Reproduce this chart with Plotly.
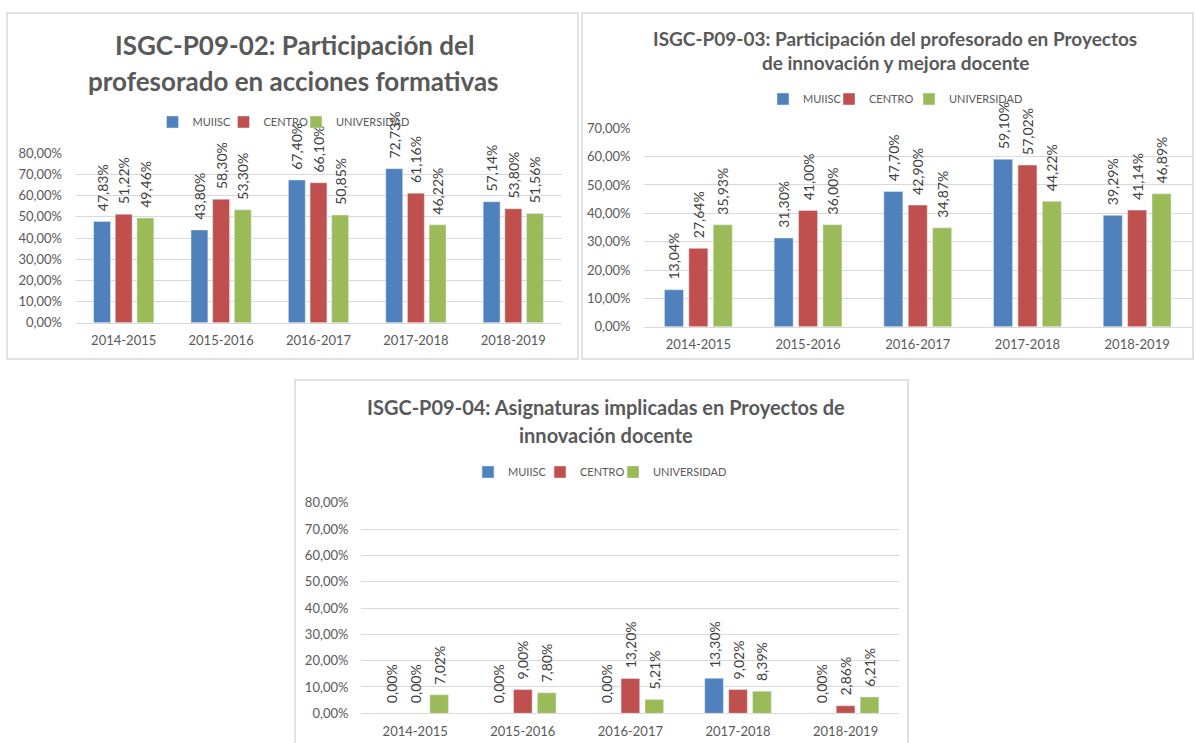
import plotly.graph_objects as go

W, H = 1196, 743

years = ["2014-2015", "2015-2016", "2016-2017", "2017-2018", "2018-2019"]
series_names = ["MUIISC", "CENTRO", "UNIVERSIDAD"]
colors = ["#4F81BD", "#C0504D", "#9BBB59"]

# ISGC-P09-02
p02_muiisc = [47.83, 43.80, 67.40, 72.73, 57.14]
p02_centro = [51.22, 58.30, 66.10, 61.16, 53.80]
p02_univ = [49.46, 53.30, 50.85, 46.22, 51.56]

# ISGC-P09-03
p03_muiisc = [13.04, 31.30, 47.70, 59.10, 39.29]
p03_centro = [27.64, 41.00, 42.90, 57.02, 41.14]
p03_univ = [35.93, 36.00, 34.87, 44.22, 46.89]

# ISGC-P09-04
p04_muiisc = [0.00, 0.00, 0.00, 13.30, 0.00]
p04_centro = [0.00, 9.00, 13.20, 9.02, 2.86]
p04_univ = [7.02, 7.80, 5.21, 8.39, 6.21]

title02 = ["ISGC-P09-02: Participación del", "profesorado en acciones formativas"]
title03 = ["ISGC-P09-03: Participación del profesorado en Proyectos",
           "de innovación y mejora docente"]
title04 = ["ISGC-P09-04: Asignaturas implicadas en Proyectos de",
           "innovación docente"]

FONT = "Lato"
GRAY = "#595959"
GRID = "#D9D9D9"


def px_x(x):
    return x / W


def px_y(y):
    return 1 - y / H


def fmt(v):
    return "\u00a0\u00a0" + f"{v:.2f}".replace(".", ",") + "%"


charts = [
    dict(data=[p02_muiisc, p02_centro, p02_univ], xa="x", ya="y",
         xdom=(75, 562), y0=322.7, ytop=153.3, ymax=80,
         legend_sq=[178.5, 249.5, 322], legend_y=122,
         titles=title02, tpos=[(294, 45), (293, 81)], tsize=26),
    dict(data=[p03_muiisc, p03_centro, p03_univ], xa="x2", ya="y2",
         xdom=(643.5, 1192), y0=326.7, ytop=128.3, ymax=70,
         legend_sq=[789, 855, 935], legend_y=99,
         titles=title03, tpos=[(895, 39), (896, 63)], tsize=19),
    dict(data=[p04_muiisc, p04_centro, p04_univ], xa="x3", ya="y3",
         xdom=(361.4, 899.4), y0=713.3, ytop=502.7, ymax=80,
         legend_sq=[494, 566, 639], legend_y=472,
         titles=title04, tpos=[(606, 407), (606, 435)], tsize=20),
]

fig = go.Figure()
annotations = []
layout_axes = {}
legends = {}
leg_i = 0

for ci, c in enumerate(charts):
    for si, (name, vals) in enumerate(zip(series_names, c["data"])):
        leg_i += 1
        leg_name = "legend" if leg_i == 1 else f"legend{leg_i}"
        fig.add_trace(go.Bar(
            x=years, y=vals, name=name, marker_color=colors[si],
            xaxis=c["xa"], yaxis=c["ya"], legend=leg_name, showlegend=True,
            text=[fmt(v) for v in vals], textposition="outside", textangle=-90,
            textfont=dict(family=FONT, size=14, color="#404040"),
            cliponaxis=False, constraintext="none", hoverinfo="skip",
        ))
        legends[leg_name] = dict(
            orientation="h", x=px_x(c["legend_sq"][si] - 26), y=px_y(c["legend_y"]),
            xanchor="left", yanchor="middle", xref="paper", yref="paper",
            font=dict(family=FONT, size=11, color=GRAY), bgcolor="rgba(0,0,0,0)",
            itemwidth=30, borderwidth=0, visible=True,
        )
    suffix = "" if ci == 0 else str(ci + 1)
    x0, x1 = c["xdom"]
    layout_axes["xaxis" + suffix] = dict(
        domain=[px_x(x0), px_x(x1)], anchor="y" + suffix, type="category",
        showline=True, linecolor=GRID, linewidth=1, ticks="", showgrid=False,
        tickfont=dict(family=FONT, size=13, color=GRAY), ticklabelstandoff=6,
        fixedrange=True, automargin=False,
    )
    layout_axes["yaxis" + suffix] = dict(
        domain=[px_y(c["y0"]), px_y(c["ytop"])], anchor="x" + suffix,
        range=[0, c["ymax"]], dtick=10, tickformat=".2f", ticksuffix="%",
        showgrid=True, gridcolor=GRID, gridwidth=1, zeroline=False, showline=False,
        tickfont=dict(family=FONT, size=13, color=GRAY), ticklabelstandoff=12,
        fixedrange=True, automargin=False,
    )
    for t, (tx, ty) in zip(c["titles"], c["tpos"]):
        annotations.append(dict(
            text=f"<b>{t}</b>", x=px_x(tx), y=px_y(ty), xref="paper", yref="paper",
            xanchor="center", yanchor="middle", showarrow=False,
            font=dict(family=FONT, size=c["tsize"], color=GRAY),
        ))

panels = [(7, 13, 578, 359), (582, 13, 1193, 359), (295, 380, 908, 760)]
shapes = [dict(type="rect", xref="paper", yref="paper",
               x0=px_x(a), x1=px_x(b), y0=px_y(d), y1=px_y(cc),
               line=dict(color=GRID, width=1.5), fillcolor="rgba(0,0,0,0)", layer="below")
          for (a, cc, b, d) in panels]

fig.update_layout(
    width=W, height=H, autosize=False, showlegend=True,
    margin=dict(l=0, r=0, t=0, b=0, pad=0, autoexpand=False),
    paper_bgcolor="white", plot_bgcolor="white",
    separators=",.",
    barmode="group", bargap=0.333, bargroupgap=0.22,
    annotations=annotations, shapes=shapes,
    font=dict(family=FONT, color=GRAY),
    **layout_axes, **legends,
)

css_fix = (
    "var de=document.documentElement, b=document.body;"
    "de.style.margin='0';de.style.padding='0';de.style.overflow='hidden';"
    "b.style.margin='0';b.style.padding='0';b.style.overflow='hidden';"
    "var gd=document.getElementById('{plot_id}');"
    "gd.style.position='fixed';gd.style.top='0px';gd.style.left='0px';"
)

fig.write_html("out.html", config={"displayModeBar": False}, post_script=css_fix)
